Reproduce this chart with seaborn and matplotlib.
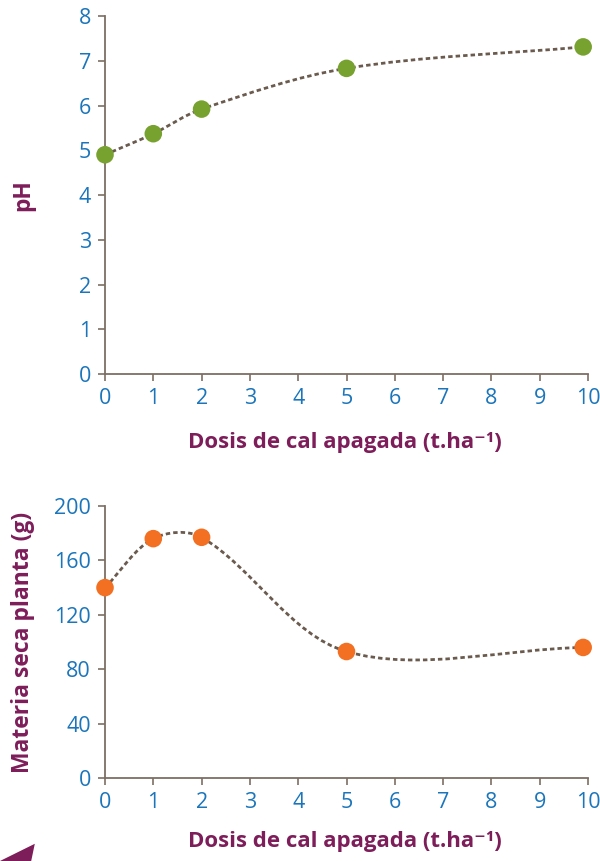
import numpy as np
import pandas as pd
import matplotlib
matplotlib.use("Agg")
import matplotlib.pyplot as plt
import seaborn as sns
from matplotlib.path import Path
from matplotlib.patches import PathPatch, Polygon

# data
dosis = [0, 1, 2, 5, 9.9]
ph = [4.9, 5.37, 5.92, 6.83, 7.31]
materia_seca = [140, 176, 177, 93, 96]

x_ticks = list(range(0, 11))
ph_ticks = list(range(0, 9))
ms_ticks = [0, 40, 80, 120, 160, 200]

x_label = "Dosis de cal apagada (t.ha\u207b\u00b9)"

PURPLE = "#7d1d5a"
BLUE = "#1a75bb"
AXIS = "#7d6e63"
LINE = "#6b5b4f"
GREEN = "#78a22f"
ORANGE = "#f36f21"

sns.set_style("ticks")
plt.rcParams["font.family"] = ["Open Sans", "DejaVu Sans"]


def smooth_path(ax, x, y):
    # Excel-like smoothed line: cubic bezier through the points
    pts = ax.transData.transform(np.column_stack([x, y]))
    n = len(pts)
    verts = [pts[0]]
    codes = [Path.MOVETO]
    for i in range(n - 1):
        p0 = pts[max(i - 1, 0)]
        p1 = pts[i]
        p2 = pts[i + 1]
        p3 = pts[min(i + 2, n - 1)]
        d01 = np.hypot(*(p1 - p0))
        d12 = np.hypot(*(p2 - p1))
        d23 = np.hypot(*(p3 - p2))
        c1 = p1 + (p2 - p0) * d12 / (d01 + d12) / 3
        c2 = p2 - (p3 - p1) * d12 / (d12 + d23) / 3
        verts += [c1, c2, p2]
        codes += [Path.CURVE4] * 3
    verts = ax.transData.inverted().transform(np.array(verts))
    return Path(verts, codes)


def draw_panel(ax, y, color, yticks, ylabel, xlab_y):
    ax.set_xlim(0, 10)
    ax.set_ylim(yticks[0], yticks[-1])
    df = pd.DataFrame({"dosis": dosis, "valor": y})
    patch = PathPatch(smooth_path(ax, dosis, y), fill=False, edgecolor=LINE,
                      lw=2.0, linestyle=(0, (1.6, 1.1)), capstyle="butt", zorder=2)
    ax.add_patch(patch)
    sns.scatterplot(data=df, x="dosis", y="valor", ax=ax, color=color, s=160,
                    edgecolor="none", zorder=3, clip_on=False)
    ax.set_xticks(x_ticks)
    ax.set_yticks(yticks)
    ax.tick_params(axis="both", colors=AXIS, labelcolor=BLUE, labelsize=15.5,
                   length=5, width=1.2, direction="out", pad=5)
    for s in ["left", "bottom"]:
        ax.spines[s].set_color(AXIS)
        ax.spines[s].set_linewidth(1.3)
    sns.despine(ax=ax)
    ax.set_xlabel(x_label, color=PURPLE, fontsize=16, fontweight="bold")
    ax.xaxis.set_label_coords(0.497, xlab_y)
    ax.xaxis.label.set_va("center")
    ax.set_ylabel(ylabel, color=PURPLE, fontsize=16.5, fontweight="bold")
    ax.yaxis.set_label_coords(-0.17, 0.5)
    ax.yaxis.label.set_va("center")


fig = plt.figure(figsize=(6, 8.61), dpi=100)
ax1 = fig.add_axes([0.175, 0.5656, 0.805, 0.4158])
ax2 = fig.add_axes([0.175, 0.0964, 0.805, 0.3159])

draw_panel(ax1, ph, GREEN, ph_ticks, "pH", -0.19)
draw_panel(ax2, materia_seca, ORANGE, ms_ticks, "Materia seca planta (g)", -0.232)

# decorative corner triangle
fig.patches.append(Polygon([[0, 0], [0.058, 0.02], [0.052, 0]], closed=True,
                           transform=fig.transFigure, facecolor=PURPLE,
                           edgecolor="none", figure=fig))

fig.savefig("out.png", dpi=100, facecolor="white")
